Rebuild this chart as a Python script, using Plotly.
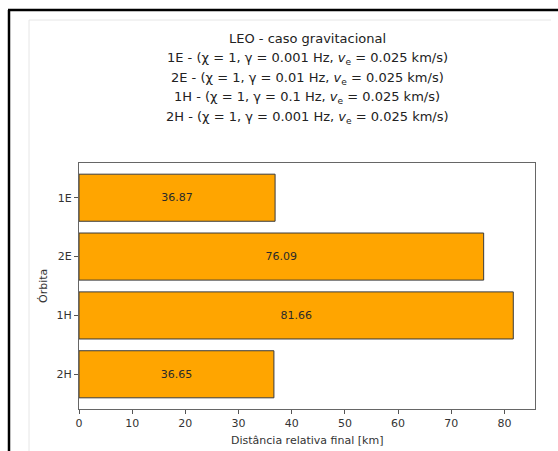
import plotly.graph_objects as go

# Data
orbits = ["1E", "2E", "1H", "2H"]
distances = [36.87, 76.09, 81.66, 36.65]
x_ticks = [0, 10, 20, 30, 40, 50, 60, 70, 80]
title_lines = [
    "LEO - caso gravitacional",
    "1E - (χ = 1, γ = 0.001 Hz, <i>v</i><sub>e</sub> = 0.025 km/s)",
    "2E - (χ = 1, γ = 0.01 Hz, <i>v</i><sub>e</sub> = 0.025 km/s)",
    "1H - (χ = 1, γ = 0.1 Hz, <i>v</i><sub>e</sub> = 0.025 km/s)",
    "2H - (χ = 1, γ = 0.001 Hz, <i>v</i><sub>e</sub> = 0.025 km/s)",
]
x_label = "Distância relativa final [km]"
y_label = "Órbita"

W, H = 558, 451
L, R, T, B = 79, 535, 163, 409
FONT = "DejaVu Sans"


def px(X):
    return (X - L) / (R - L)


def py(Y):
    return (B - Y) / (B - T)


fig = go.Figure(
    go.Bar(
        x=distances,
        y=orbits,
        orientation="h",
        width=0.8,
        marker=dict(color="#FFA500", line=dict(color="#3a3a3a", width=1)),
        text=distances,
        texttemplate="%{x:.2f}",
        textposition="inside",
        insidetextanchor="middle",
        textangle=0,
        textfont=dict(family=FONT, size=11, color="#2a2a2a"),
        hoverinfo="skip",
    )
)

xmax = max(distances) * 1.05
n = len(orbits)
pad = 0.05 * (n - 1 + 0.8)

fig.update_layout(
    width=W,
    height=H,
    margin=dict(l=L, r=W - R, t=T, b=H - B, autoexpand=False),
    paper_bgcolor="white",
    plot_bgcolor="white",
    showlegend=False,
    font=dict(family=FONT, size=11, color="#333"),
    xaxis=dict(
        range=[0, xmax],
        tickvals=x_ticks,
        ticks="outside",
        ticklen=4,
        tickcolor="#555",
        showline=True,
        mirror=True,
        linecolor="#666",
        linewidth=1,
        showgrid=False,
        zeroline=False,
        tickfont=dict(family=FONT, size=11, color="#333"),
        fixedrange=True,
    ),
    yaxis=dict(
        type="category",
        categoryorder="array",
        categoryarray=orbits,
        range=[n - 1 + 0.4 + pad, -0.4 - pad],
        ticks="outside",
        ticklen=4,
        tickcolor="#555",
        showline=True,
        mirror=True,
        linecolor="#666",
        linewidth=1,
        showgrid=False,
        zeroline=False,
        tickfont=dict(family=FONT, size=11, color="#333"),
        fixedrange=True,
    ),
)

# Title lines
title_y = [39, 58, 78, 97, 117]
for line, yy in zip(title_lines, title_y):
    fig.add_annotation(
        text=line, xref="paper", yref="paper", x=0.5, y=py(yy),
        xanchor="center", yanchor="middle", showarrow=False,
        font=dict(family=FONT, size=13, color="#222"),
    )

# Axis labels
fig.add_annotation(
    text=x_label, xref="paper", yref="paper", x=0.5, y=py(440),
    xanchor="center", yanchor="middle", showarrow=False,
    font=dict(family=FONT, size=11, color="#333"),
)
fig.add_annotation(
    text=y_label, xref="paper", yref="paper", x=px(43), y=0.5,
    xanchor="center", yanchor="middle", showarrow=False, textangle=-90,
    font=dict(family=FONT, size=11, color="#333"),
)

# Screenshot frame lines
fig.add_shape(type="line", xref="paper", yref="paper",
              x0=px(29), x1=px(551), y0=py(20), y1=py(20),
              line=dict(color="#e6e6e6", width=1))
fig.add_shape(type="line", xref="paper", yref="paper",
              x0=px(29), x1=px(29), y0=py(20), y1=py(451),
              line=dict(color="#e6e6e6", width=1))
fig.add_shape(type="line", xref="paper", yref="paper",
              x0=px(8), x1=px(558), y0=py(10), y1=py(10),
              line=dict(color="black", width=2.5))
fig.add_shape(type="line", xref="paper", yref="paper",
              x0=px(9), x1=px(9), y0=py(10), y1=py(451),
              line=dict(color="black", width=2.5))

fig.write_html(
    "out.html",
    config={"displayModeBar": False},
    post_script="document.body.style.margin='0';document.body.style.overflow='hidden';",
)
